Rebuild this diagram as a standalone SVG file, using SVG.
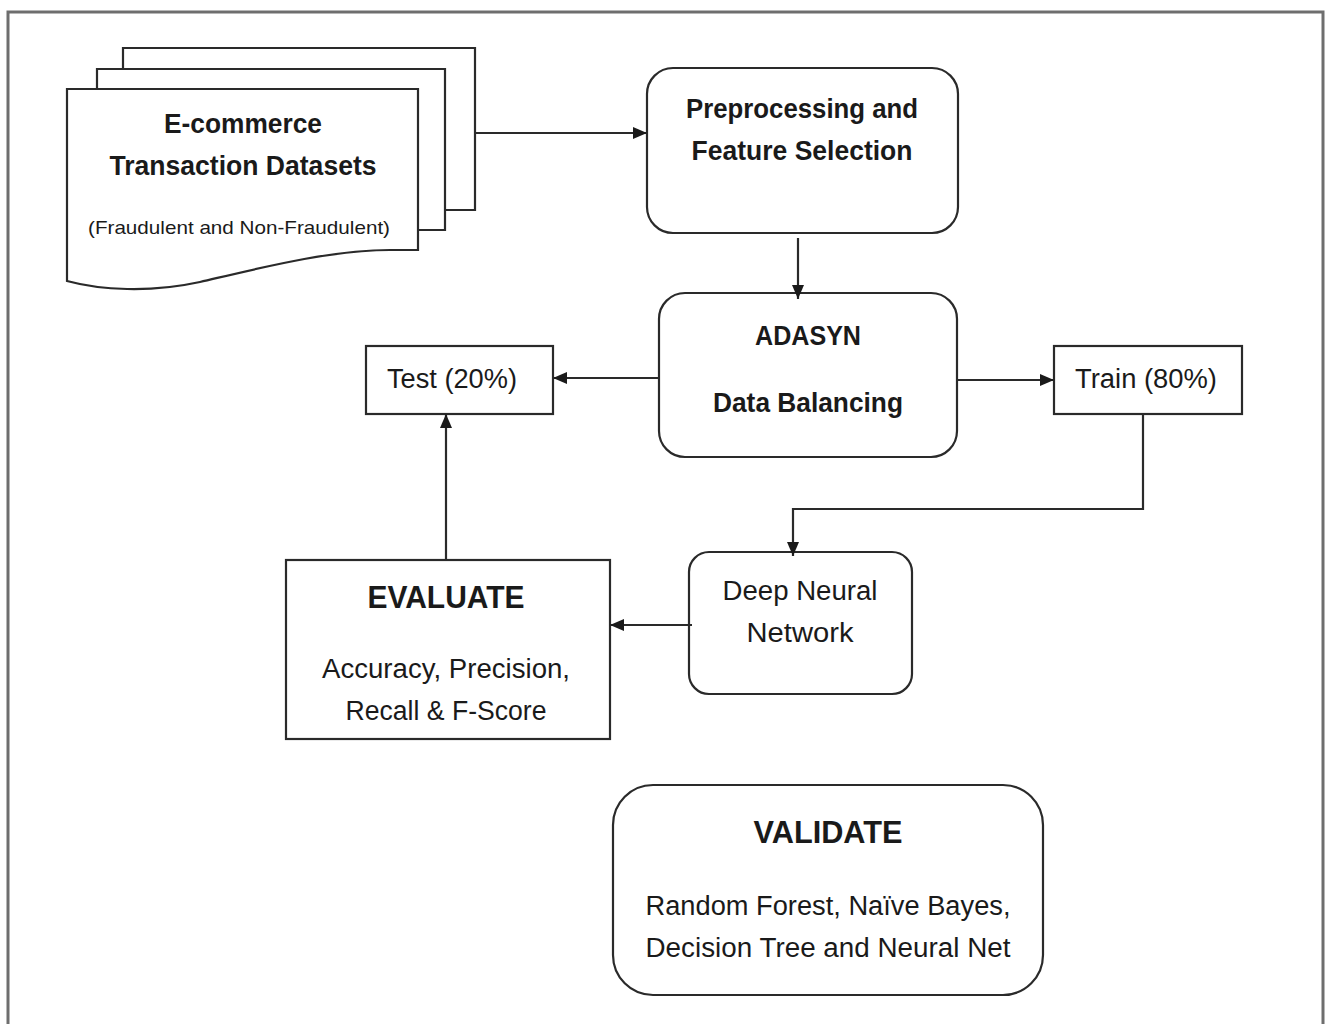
<svg xmlns="http://www.w3.org/2000/svg" width="1328" height="1024" viewBox="0 0 1328 1024">
<style>
.box{fill:#fff;stroke:#2a2a2a;stroke-width:2.2}
.ln{fill:none;stroke:#2a2a2a;stroke-width:2.2}
text{font-family:"Liberation Sans",Arial,sans-serif;fill:#1a1a1a;text-anchor:middle}
.b{font-weight:bold}
</style>
<defs>
<marker id="ah" viewBox="0 0 14 12" refX="14" refY="6" markerWidth="14" markerHeight="12" markerUnits="userSpaceOnUse" orient="auto">
<path d="M0,0 L14,6 L0,12 Z" fill="#1a1a1a"/>
</marker>
</defs>
<rect x="0" y="0" width="1328" height="1024" fill="#fff"/>
<path d="M8,1030 V12 H1323 V1030" fill="none" stroke="#6e6e6e" stroke-width="3"/>

<g id="datasets">
<path class="box" d="M123,69 V48 H475 V210 H445"/>
<path class="box" d="M97,89 V69 H445 V230 H418"/>
<path class="box" d="M67,89 H418 V250 H390 C330,250 260,268 200,282 C150,293 100,290 67,281 Z"/>
<text class="b" x="243" y="133" font-size="27" textLength="158" lengthAdjust="spacingAndGlyphs">E-commerce</text>
<text class="b" x="243" y="175" font-size="27" textLength="267" lengthAdjust="spacingAndGlyphs">Transaction Datasets</text>
<text x="239" y="234" font-size="19" textLength="302" lengthAdjust="spacingAndGlyphs">(Fraudulent and Non-Fraudulent)</text>
</g>

<g id="preprocessing">
<rect class="box" x="647" y="68" width="311" height="165" rx="26"/>
<text class="b" x="802" y="118" font-size="27" textLength="232" lengthAdjust="spacingAndGlyphs">Preprocessing and</text>
<text class="b" x="802" y="160" font-size="27" textLength="221" lengthAdjust="spacingAndGlyphs">Feature Selection</text>
</g>

<g id="adasyn">
<rect class="box" x="659" y="293" width="298" height="164" rx="26"/>
<text class="b" x="808" y="345" font-size="27" textLength="106" lengthAdjust="spacingAndGlyphs">ADASYN</text>
<text class="b" x="808" y="412" font-size="27" textLength="190" lengthAdjust="spacingAndGlyphs">Data Balancing</text>
</g>

<g id="test">
<rect class="box" x="366" y="346" width="187" height="68"/>
<text x="452" y="388" font-size="27" textLength="130" lengthAdjust="spacingAndGlyphs">Test (20%)</text>
</g>

<g id="train">
<rect class="box" x="1054" y="346" width="188" height="68"/>
<text x="1146" y="388" font-size="27" textLength="142" lengthAdjust="spacingAndGlyphs">Train (80%)</text>
</g>

<g id="dnn">
<rect class="box" x="689" y="552" width="223" height="142" rx="20"/>
<text x="800" y="600" font-size="27" textLength="155" lengthAdjust="spacingAndGlyphs">Deep Neural</text>
<text x="800" y="642" font-size="27" textLength="107" lengthAdjust="spacingAndGlyphs">Network</text>
</g>

<g id="evaluate">
<rect class="box" x="286" y="560" width="324" height="179"/>
<text class="b" x="446" y="608" font-size="31" textLength="157" lengthAdjust="spacingAndGlyphs">EVALUATE</text>
<text x="446" y="678" font-size="27" textLength="248" lengthAdjust="spacingAndGlyphs">Accuracy, Precision,</text>
<text x="446" y="720" font-size="27" textLength="201" lengthAdjust="spacingAndGlyphs">Recall &amp; F-Score</text>
</g>

<g id="validate">
<rect class="box" x="613" y="785" width="430" height="210" rx="40"/>
<text class="b" x="828" y="843" font-size="31" textLength="149" lengthAdjust="spacingAndGlyphs">VALIDATE</text>
<text x="828" y="915" font-size="27" textLength="365" lengthAdjust="spacingAndGlyphs">Random Forest, Naïve Bayes,</text>
<text x="828" y="957" font-size="27" textLength="365" lengthAdjust="spacingAndGlyphs">Decision Tree and Neural Net</text>
</g>

<g id="connectors">
<path class="ln" d="M475,133 H647" marker-end="url(#ah)"/>
<path class="ln" d="M798,238 V299" marker-end="url(#ah)"/>
<path class="ln" d="M659,378 H553" marker-end="url(#ah)"/>
<path class="ln" d="M957,380 H1054" marker-end="url(#ah)"/>
<path class="ln" d="M1143,414 V509 H793 V556" marker-end="url(#ah)"/>
<path class="ln" d="M692,625 H610" marker-end="url(#ah)"/>
<path class="ln" d="M446,560 V414" marker-end="url(#ah)"/>
</g>
</svg>
